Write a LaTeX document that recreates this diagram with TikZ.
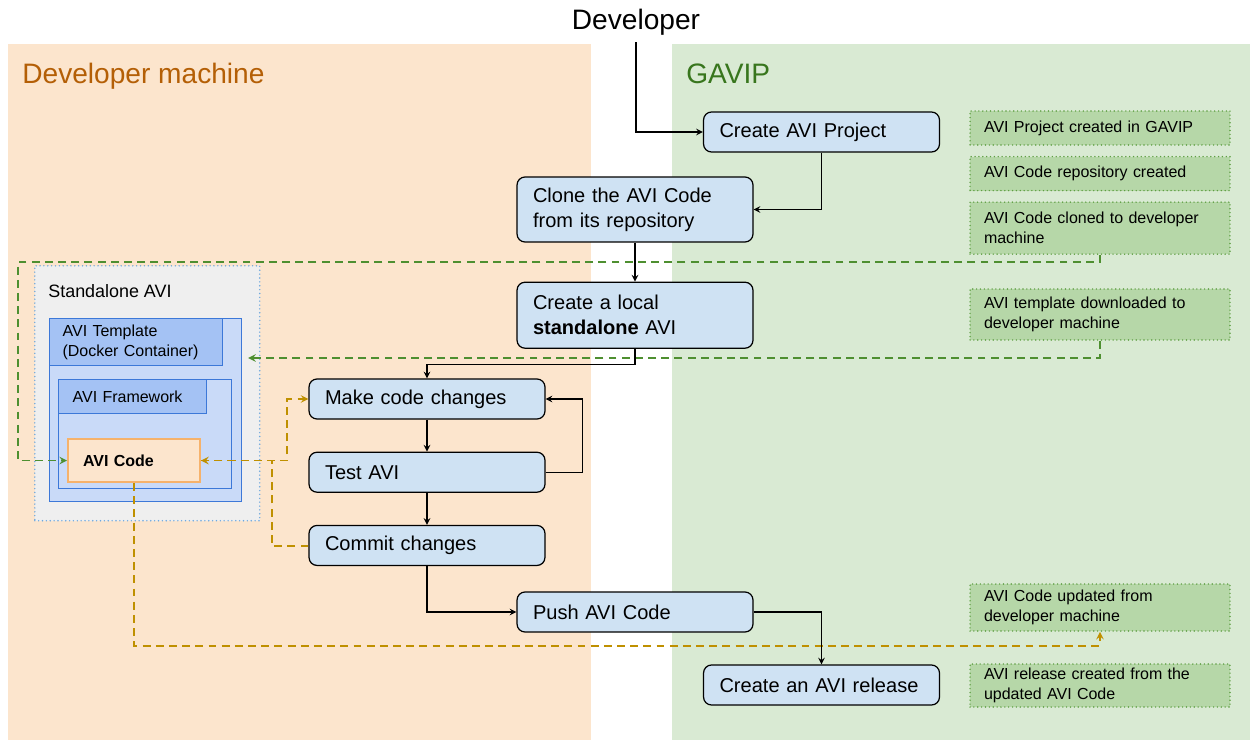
\documentclass[tikz,border=0pt]{standalone}
\usepackage{fontspec}
\setmainfont{Liberation Sans}
\usetikzlibrary{arrows,positioning}
\definecolor{machinebg}{HTML}{FCE5CD}
\definecolor{gavipbg}{HTML}{D9EAD3}
\definecolor{machinetxt}{HTML}{B45F06}
\definecolor{gaviptxt}{HTML}{38761D}
\definecolor{taskfill}{HTML}{CFE2F3}
\definecolor{notefill}{HTML}{B6D7A8}
\definecolor{notedraw}{HTML}{5E9E42}
\definecolor{sabg}{HTML}{EFEFEF}
\definecolor{sadraw}{HTML}{6FA8DC}
\definecolor{tplfill}{HTML}{C9DAF8}
\definecolor{tplhead}{HTML}{A4C2F4}
\definecolor{tpldraw}{HTML}{3C78D8}
\definecolor{codedraw}{HTML}{F6B26B}
\definecolor{greenlink}{HTML}{4E8F30}
\definecolor{orangelink}{HTML}{BF9000}
\tikzset{
    >=stealth,
    task/.style={draw,rounded corners=0.16cm,fill=taskfill,line width=0.7pt,
        text width=4.08cm,inner xsep=0.32cm,inner ysep=0pt,minimum height=0.8cm,
        align=left,font=\fontsize{11.4}{14.2}\selectfont},
    note/.style={draw=notedraw,fill=notefill,line width=0.9pt,line cap=round,
        dash pattern=on 0pt off 2.2pt,text width=4.64cm,inner xsep=0.28cm,
        inner ysep=0pt,align=left,font=\fontsize{9.1}{11.4}\selectfont},
    box/.style={anchor=north west,inner sep=0pt,line width=0.7pt},
    head/.style={box,draw=tpldraw,fill=tplhead,align=left,
        font=\fontsize{9.1}{11.4}\selectfont},
    flow/.style={->,line width=0.7pt},
    glink/.style={->,draw=greenlink,line width=0.9pt,dash pattern=on 4.5pt off 3pt},
    olink/.style={->,draw=orangelink,line width=0.9pt,dash pattern=on 4.5pt off 3pt}
}
\begin{document}
\begin{tikzpicture}[x=0.02cm,y=-0.02cm]
    \useasboundingbox (0,0) rectangle (1250,740);
    % two areas
    \fill[machinebg] (8,44) rectangle (591,740);
    \fill[gavipbg] (672,44) rectangle (1250,740);
    \node[anchor=base west,inner sep=0pt,text=machinetxt,font=\fontsize{16}{19}\selectfont] (machine) at (22,84) {Developer machine};
    \node[anchor=base west,inner sep=0pt,text=gaviptxt,font=\fontsize{16}{19}\selectfont] (gavip) at (686,84) {GAVIP};
    \node[anchor=base,font=\fontsize{16}{19}\selectfont] (dev) at (636,30) {Developer};

    % standalone AVI
    \node[box,draw=sadraw,fill=sabg,dash pattern=on 0pt off 2.2pt,line cap=round,line width=0.9pt,
        minimum width=4.5cm,minimum height=5.1cm] (sa) at (34,265) {};
    \node[anchor=base west,inner sep=0pt,font=\fontsize{10.2}{12}\selectfont] (salabel) at (48,297) {Standalone AVI};
    \node[box,draw=tpldraw,fill=tplfill,minimum width=3.84cm,minimum height=3.66cm] (tpl) at (49,318) {};
    \node[head,text width=2.94cm,inner xsep=0.26cm,minimum height=0.94cm] (tplh) at (49,318) {AVI Template\\(Docker Container)};
    \node[box,draw=tpldraw,fill=tplfill,minimum width=3.46cm,minimum height=2.18cm] (fw) at (58,379) {};
    \node[head,text width=2.4cm,inner xsep=0.28cm,minimum height=0.68cm] (fwh) at (58,379) {AVI Framework};
    \node[box,draw=codedraw,fill=machinebg,line width=1.2pt,text width=2.04cm,inner xsep=0.3cm,
        minimum height=0.86cm,align=left,font=\fontsize{9.1}{11}\selectfont\bfseries] (code) at (67,438) {AVI Code};

    % steps
    \node[task] (create) at (821.5,132) {Create AVI Project};
    \node[task,minimum height=1.3cm] (clone) at (635,209.5) {Clone the AVI Code\\from its repository};
    \node[task,minimum height=1.32cm] (local) [below=0.78cm of clone] {Create a local\\\textbf{standalone} AVI};
    \node[task] (make) at (427,399) {Make code changes};
    \node[task] (test) [below=0.64cm of make] {Test AVI};
    \node[task] (commit) [below=0.64cm of test] {Commit changes};
    \node[task] (push) at (635,612) {Push AVI Code};
    \node[task] (release) at (821.5,685) {Create an AVI release};

    % notes
    \node[note,minimum height=0.68cm] (n1) at (1100,128) {AVI Project created in GAVIP};
    \node[note,minimum height=0.68cm] (n2) [below=0.2cm of n1] {AVI Code repository created};
    \node[note,minimum height=1.04cm] (n3) [below=0.2cm of n2] {AVI Code cloned to developer\\machine};
    \node[note,minimum height=1.02cm] (n4) at (1100,314.5) {AVI template downloaded to\\developer machine};
    \node[note,minimum height=0.94cm] (n5) at (1100,607.5) {AVI Code updated from\\developer machine};
    \node[note,minimum height=0.86cm] (n6) at (1100,685.5) {AVI release created from the\\updated AVI Code};

    % dashed links
    \draw[glink] (n3.south) |- ++(-1082,7) |- (code.west);
    \draw[glink] (n4.south) |- ([xshift=0.12cm,yshift=-0.8cm]tpl.north east);
    \draw[olink] ([yshift=-0.01cm]commit.west) -- ++(-36.5,0) |- (code.east);
    \draw[olink] (code.east) -- ++(86,0) |- (make.west);
    \draw[olink] (code.south) |- ([yshift=-0.28cm]n5.south) -- (n5.south);

    % flow
    \draw[flow] (dev.south) |- (create.west);
    \draw[flow] (create.south) |- (clone.east);
    \draw[flow] (clone.south) -- (local.north);
    \draw[flow] (local.south) -- ++(0,16) -| (make.north);
    \draw[flow] (make.south) -- (test.north);
    \draw[flow] (test.east) -- ++(37,0) |- (make.east);
    \draw[flow] (test.south) -- (commit.north);
    \draw[flow] (commit.south) |- (push.west);
    \draw[flow] (push.east) -| (release.north);
\end{tikzpicture}
\end{document}
